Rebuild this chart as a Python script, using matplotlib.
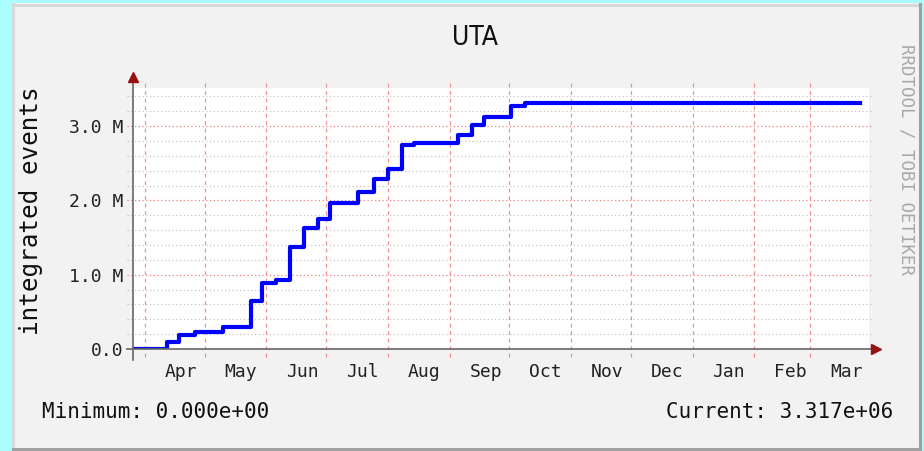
import matplotlib
matplotlib.use("Agg")
import matplotlib.pyplot as plt
from matplotlib.patches import Rectangle
import pandas as pd

# step changes of the integrated event count (date of change, value)
step_dates = ["2008-03-26", "2008-04-12", "2008-04-18", "2008-04-26", "2008-05-10",
              "2008-05-24", "2008-05-30", "2008-06-06", "2008-06-13", "2008-06-20",
              "2008-06-27", "2008-07-03", "2008-07-17", "2008-07-25", "2008-08-01",
              "2008-08-08", "2008-08-14", "2008-09-05", "2008-09-12", "2008-09-18",
              "2008-10-02", "2008-10-09", "2009-03-26"]
step_values = [0.0, 0.094e6, 0.19e6, 0.23e6, 0.30e6,
               0.65e6, 0.89e6, 0.93e6, 1.37e6, 1.63e6,
               1.75e6, 1.97e6, 2.11e6, 2.29e6, 2.42e6,
               2.75e6, 2.77e6, 2.88e6, 3.01e6, 3.12e6,
               3.27e6, 3.317e6, 3.317e6]

month_starts = pd.date_range("2008-04-01", "2009-03-01", freq="MS")
month_labels = ["Apr", "May", "Jun", "Jul", "Aug", "Sep", "Oct", "Nov", "Dec", "Jan", "Feb", "Mar"]
y_ticks = [0, 1e6, 2e6, 3e6]
y_tick_labels = ["0.0", "1.0 M", "2.0 M", "3.0 M"]
y_minor = [i * 0.2e6 for i in range(1, 18) if i % 5 != 0]

W, H = 924, 451
mono = "DejaVu Sans Mono"

fig = plt.figure(figsize=(W / 100, H / 100), dpi=100)
fig.patch.set_facecolor("#AAFDFD")

def fx(px):
    return px / W

def fy(py):
    return 1 - py / H

# canvas with shaded border
fig.patches.append(Rectangle((fx(12), fy(450)), fx(921) - fx(12), fy(3) - fy(450),
                             transform=fig.transFigure, facecolor="#F2F2F2",
                             edgecolor="none", zorder=-5))
for xs, ys, c in [([13, 13], [449, 4], "#D8D8D8"), ([13, 920], [5, 5], "#D8D8D8"),
                  ([920, 920], [449, 4], "#A0A0A0"), ([13, 920], [449, 449], "#A0A0A0")]:
    fig.add_artist(plt.Line2D([fx(v) for v in xs], [fy(v) for v in ys], color=c,
                              lw=2.2, zorder=-4))

ax = fig.add_axes([fx(133), fy(349), fx(869) - fx(133), fy(88) - fy(349)])
ax.set_facecolor("white")
for s in ax.spines.values():
    s.set_visible(False)

dates = pd.to_datetime(step_dates)
x0 = pd.Timestamp("2008-03-26")
x1 = pd.Timestamp("2009-03-30 12:00")
ax.set_xlim(x0, x1)
ax.set_ylim(0, 3.513e6)

# grid
xl = pd.Timestamp("2008-03-23")
xr = pd.Timestamp("2009-04-01")
for v in y_minor:
    ax.plot([xl, xr], [v, v], color="#C4C4C4", lw=0.9, ls=(0, (1, 2)), clip_on=False, zorder=1)
for v in y_ticks[1:]:
    ax.plot([xl, xr], [v, v], color="#F08080", lw=0.9, ls=(0, (1, 2)), clip_on=False, zorder=1)
ax.vlines(month_starts, -0.11e6, 3.58e6, color="#F09090", lw=0.9, ls=(0, (3, 3)),
          clip_on=False, zorder=1)

ax.step(dates, step_values, where="post", color="#0000FF", lw=3, zorder=3)

# axes with arrows
ax.plot([-0.008, 1.005], [0, 0], transform=ax.transAxes, color="#666666", lw=1.2,
        clip_on=False, zorder=4)
ax.plot([0, 0], [-0.042, 1.03], transform=ax.transAxes, color="#666666", lw=1.2,
        clip_on=False, zorder=4)
ax.plot([1.01], [0], transform=ax.transAxes, marker=">", ms=7, color="#991111",
        clip_on=False, zorder=5)
ax.plot([0], [1.042], transform=ax.transAxes, marker="^", ms=7, color="#991111",
        clip_on=False, zorder=5)

ax.set_yticks(y_ticks, y_tick_labels, fontfamily=mono, fontsize=13, color="#222222")
ax.tick_params(axis="y", length=0, pad=7)
ax.set_xticks(month_starts, [""] * len(month_starts))
ax.set_xticks(month_starts + pd.Timedelta(days=18), month_labels, minor=True,
              fontfamily=mono, fontsize=13, color="#222222")
ax.tick_params(axis="x", which="both", length=0, pad=10)

fig.text(fx(475), fy(38), "UTA", ha="center", va="center", fontsize=19,
         fontfamily="DejaVu Sans", fontstretch="condensed", color="#111111")
fig.text(fx(31), fy(211), "integrated events", rotation=90, ha="center", va="center",
         fontsize=17.5, fontfamily=mono, color="#111111")
fig.text(fx(906), fy(160), "RRDTOOL / TOBI OETIKER", rotation=270, ha="center",
         va="center", fontsize=12.5, fontfamily=mono, color="#A8A8A8")
fig.text(fx(42), fy(412), "Minimum: 0.000e+00", ha="left", va="center",
         fontsize=15, fontfamily=mono, color="#111111")
fig.text(fx(893), fy(412), "Current: 3.317e+06", ha="right", va="center",
         fontsize=15, fontfamily=mono, color="#111111")

fig.savefig("out.png", dpi=100, facecolor=fig.get_facecolor())
